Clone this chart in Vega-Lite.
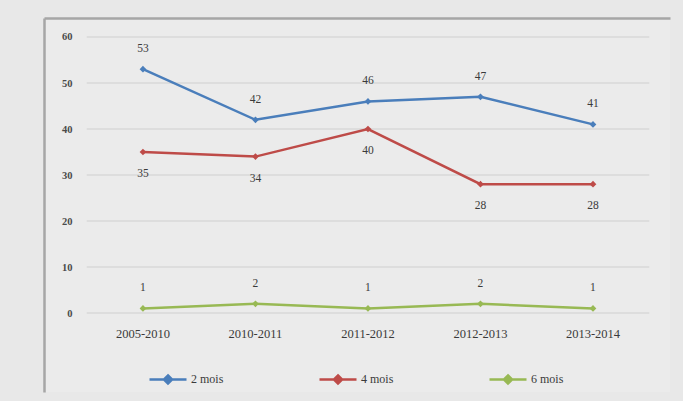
{
  "$schema": "https://vega.github.io/schema/vega-lite/v6.json",
  "width": 626,
  "height": 374,
  "autosize": {"type": "none"},
  "padding": {"left": 44, "top": 18, "right": 13, "bottom": 9},
  "background": "#e8e8e8",
  "config": {
    "view": {"fill": "#ebebeb", "stroke": null},
    "font": "Liberation Serif"
  },
  "datasets": {
    "series": [
      {"periode": "2005-2010", "serie": "2 mois", "valeur": 53},
      {"periode": "2010-2011", "serie": "2 mois", "valeur": 42},
      {"periode": "2011-2012", "serie": "2 mois", "valeur": 46},
      {"periode": "2012-2013", "serie": "2 mois", "valeur": 47},
      {"periode": "2013-2014", "serie": "2 mois", "valeur": 41},
      {"periode": "2005-2010", "serie": "4 mois", "valeur": 35},
      {"periode": "2010-2011", "serie": "4 mois", "valeur": 34},
      {"periode": "2011-2012", "serie": "4 mois", "valeur": 40},
      {"periode": "2012-2013", "serie": "4 mois", "valeur": 28},
      {"periode": "2013-2014", "serie": "4 mois", "valeur": 28},
      {"periode": "2005-2010", "serie": "6 mois", "valeur": 1},
      {"periode": "2010-2011", "serie": "6 mois", "valeur": 2},
      {"periode": "2011-2012", "serie": "6 mois", "valeur": 1},
      {"periode": "2012-2013", "serie": "6 mois", "valeur": 2},
      {"periode": "2013-2014", "serie": "6 mois", "valeur": 1}
    ],
    "grille": [
      {"niveau": 0}, {"niveau": 10}, {"niveau": 20}, {"niveau": 30},
      {"niveau": 40}, {"niveau": 50}, {"niveau": 60}
    ]
  },
  "encoding": {
    "x": {
      "field": "periode",
      "type": "nominal",
      "sort": ["2005-2010", "2010-2011", "2011-2012", "2012-2013", "2013-2014"],
      "scale": {"type": "band", "paddingInner": 0, "paddingOuter": 0.282, "align": 0.673},
      "axis": {
        "orient": "top",
        "title": null,
        "domain": true,
        "domainColor": "#a6a6a6",
        "domainWidth": 2.5,
        "domainCap": "butt",
        "ticks": false,
        "labelAngle": 0,
        "labelBaseline": "middle",
        "labelPadding": -315,
        "labelFontSize": 12.5,
        "labelColor": "#3a3a3a",
        "grid": false
      }
    },
    "y": {
      "field": "valeur",
      "type": "quantitative",
      "scale": {"domain": [-17.17, 64.13], "nice": false, "zero": false},
      "axis": {
        "title": null,
        "values": [0, 10, 20, 30, 40, 50, 60],
        "domain": true,
        "domainColor": "#a6a6a6",
        "domainWidth": 2.5,
        "domainCap": "butt",
        "ticks": false,
        "grid": false,
        "labelAlign": "right",
        "labelPadding": -28,
        "labelFontSize": 10.5,
        "labelFontWeight": "bold",
        "labelColor": "#4a4a4a"
      }
    },
    "color": {
      "field": "serie",
      "type": "nominal",
      "scale": {
        "domain": ["2 mois", "4 mois", "6 mois"],
        "range": ["#4a7ebb", "#be4b48", "#98b954"]
      },
      "legend": {
        "title": null,
        "orient": "none",
        "direction": "horizontal",
        "legendX": 104,
        "legendY": 341,
        "columnPadding": 90,
        "labelOffset": 3,
        "labelFont": "Liberation Serif",
        "labelFontSize": 12,
        "labelColor": "#3a3a3a",
        "symbolType": "M-1,0H1M0,-0.22L0.22,0L0,0.22L-0.22,0Z",
        "symbolSize": 1369,
        "symbolStrokeWidth": 2.5,
        "encode": {"symbols": {"update": {"fill": {"scale": "color", "field": "value"}}}}
      }
    }
  },
  "layer": [
    {
      "data": {"name": "grille"},
      "mark": {"type": "rule", "color": "#d9d9d9", "strokeWidth": 1.5},
      "encoding": {
        "y": {"field": "niveau", "type": "quantitative"},
        "x": {"datum": "2005-2010", "bandPosition": 0},
        "x2": {"datum": "2013-2014", "bandPosition": 1},
        "color": null
      }
    },
    {
      "data": {"name": "series"},
      "mark": {
        "type": "line",
        "strokeWidth": 2.5,
        "point": {"shape": "diamond", "size": 45, "filled": true}
      }
    },
    {
      "data": {"name": "series"},
      "transform": [{"filter": "datum.serie !== '4 mois'"}],
      "mark": {"type": "text", "dy": -20, "fontSize": 11.5, "color": "#3a3a3a"},
      "encoding": {"text": {"field": "valeur", "type": "quantitative"}, "color": null}
    },
    {
      "data": {"name": "series"},
      "transform": [{"filter": "datum.serie === '4 mois'"}],
      "mark": {"type": "text", "dy": 22, "fontSize": 11.5, "color": "#3a3a3a"},
      "encoding": {"text": {"field": "valeur", "type": "quantitative"}, "color": null}
    }
  ]
}
